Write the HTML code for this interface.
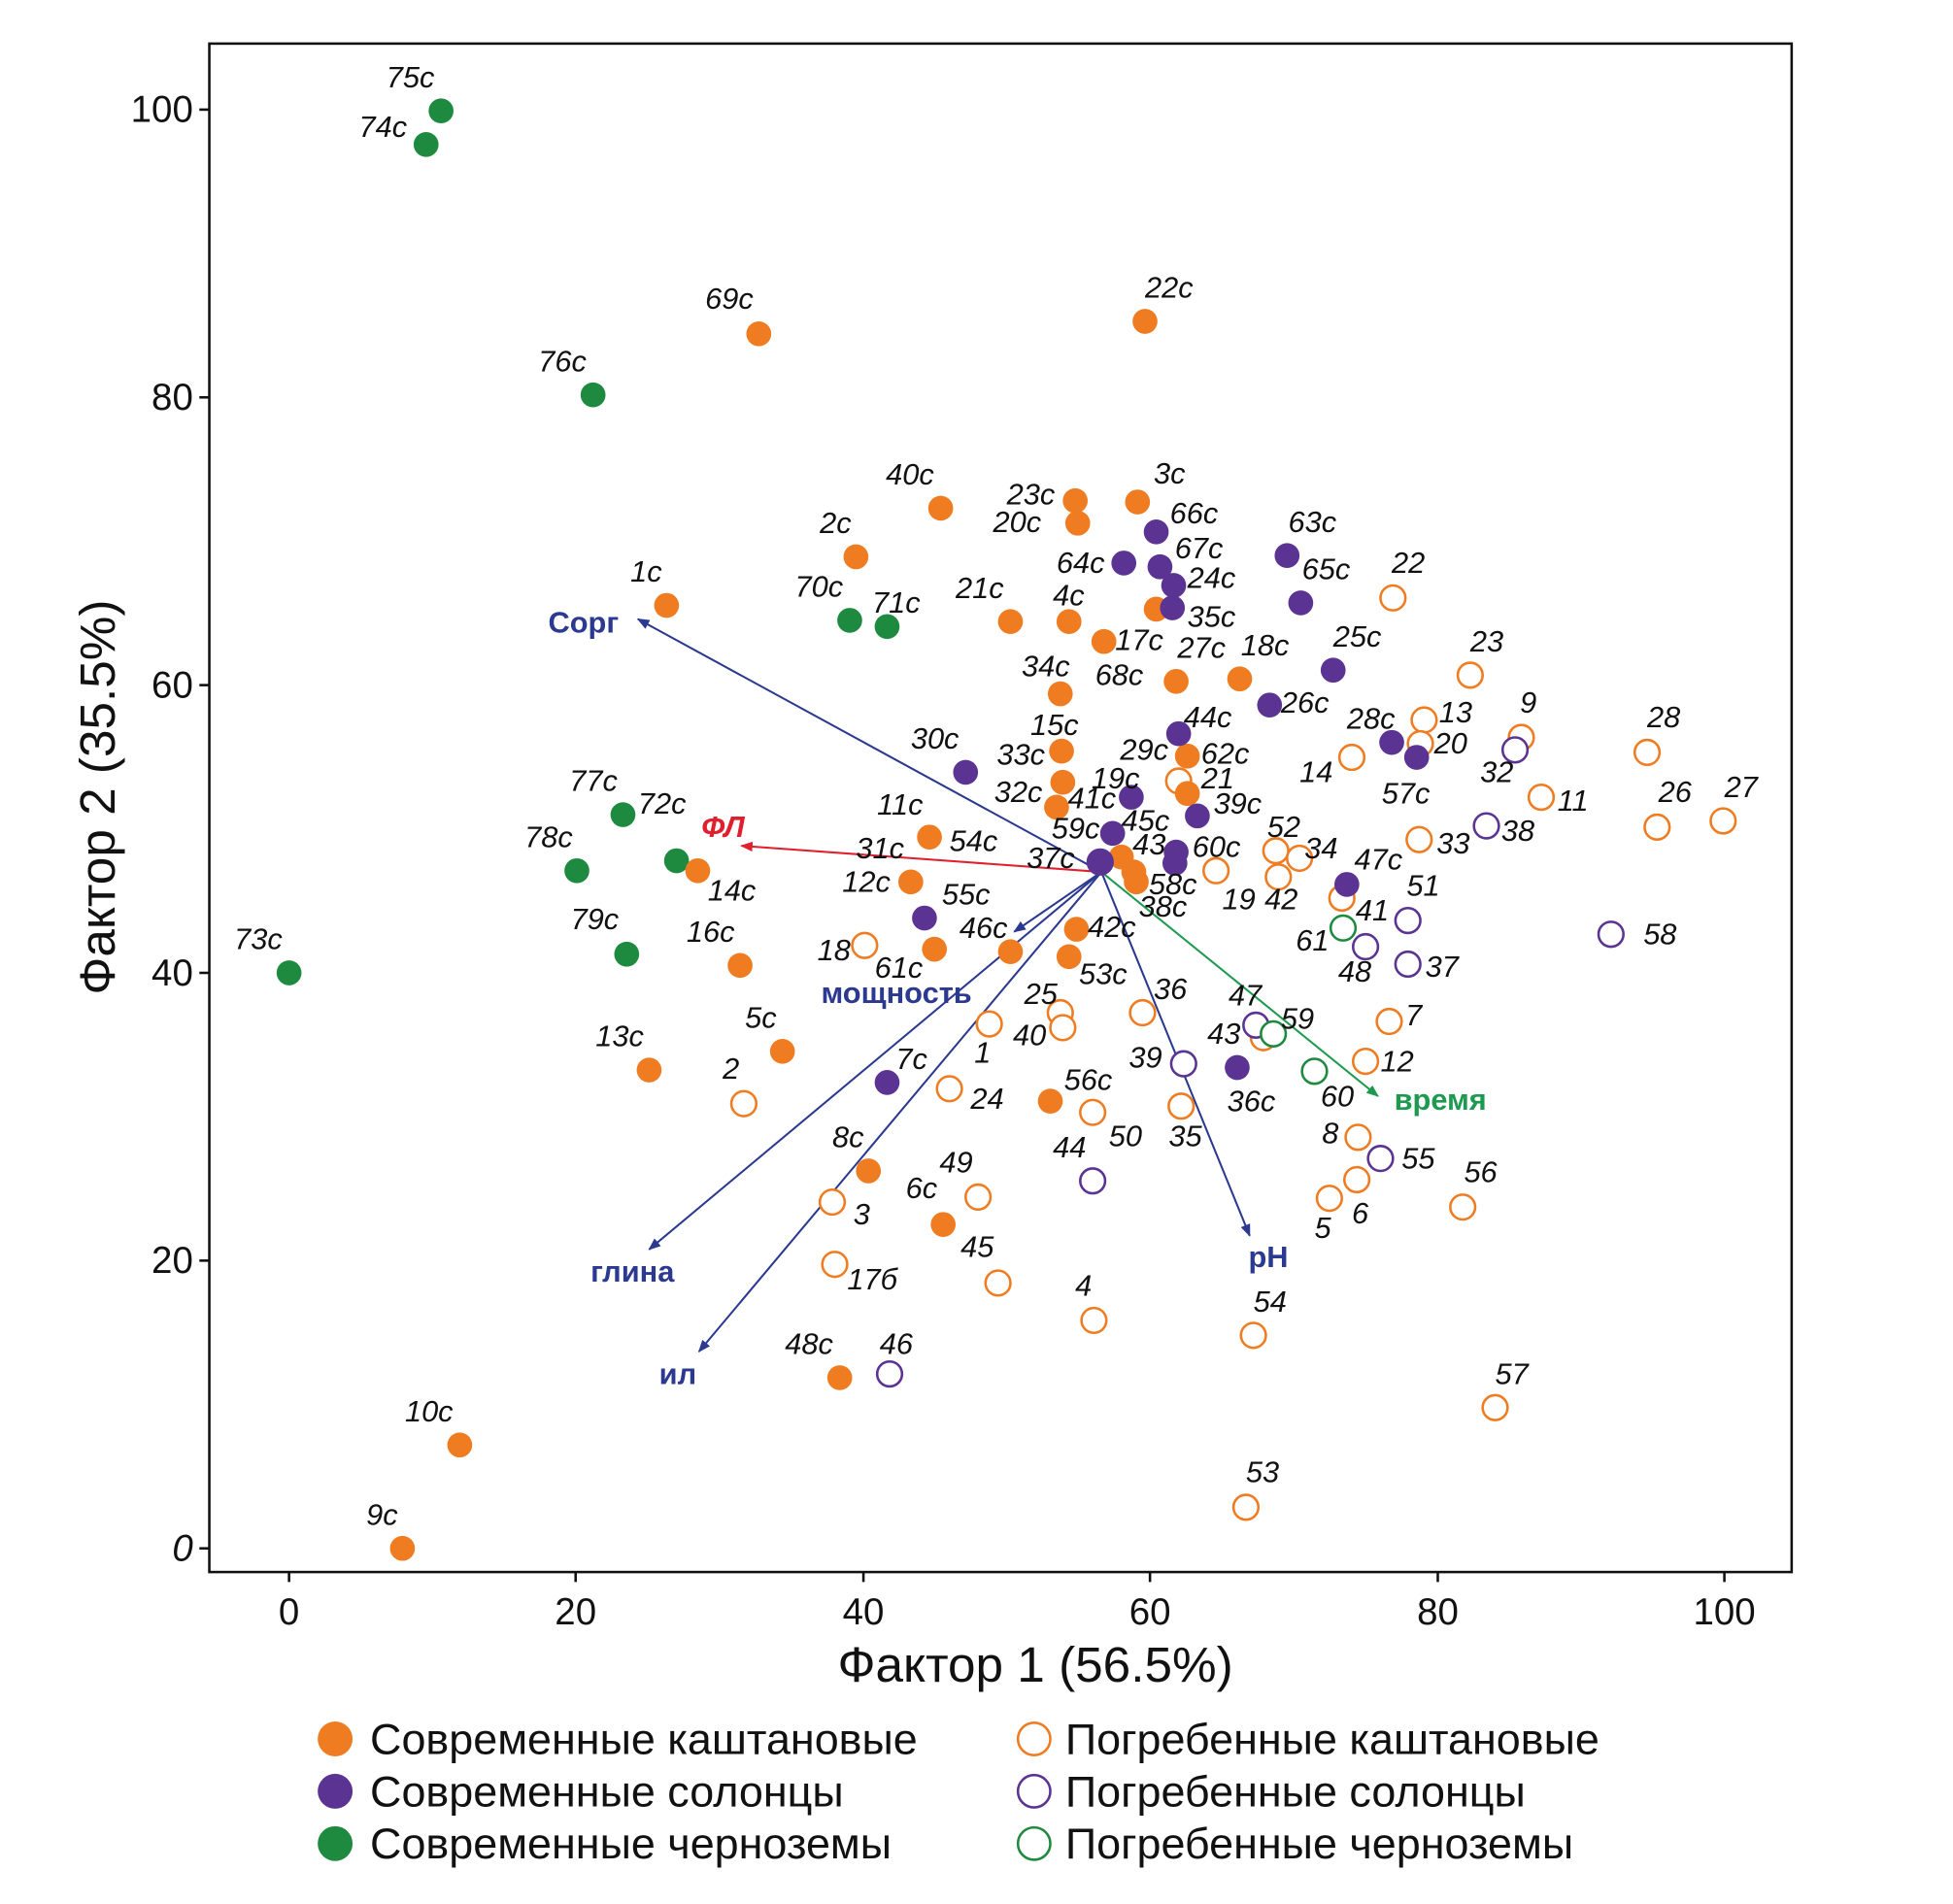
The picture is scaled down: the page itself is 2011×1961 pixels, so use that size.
<!DOCTYPE html>
<html><head><meta charset="utf-8"><style>
html,body{margin:0;padding:0;background:#fff}
svg{display:block}
text{font-family:"Liberation Sans",sans-serif}
.l{font-size:24px;font-style:italic;fill:#111}
.of{fill:#f07c22}.pf{fill:#5b3393}.gf{fill:#1e8a40}
.oo{fill:#fff;stroke:#f07c22;stroke-width:2}.po{fill:#fff;stroke:#5b3393;stroke-width:2}.go{fill:#fff;stroke:#1e8a40;stroke-width:2}
.t{font-size:30px;fill:#111}
.v{font-size:24px;font-weight:bold;fill:#2b3990}
</style></head><body>
<svg width="2011" height="1961" viewBox="0 0 1567.5 1528.5" preserveAspectRatio="none" xmlns="http://www.w3.org/2000/svg">
<defs>
<marker id="ab" markerWidth="10" markerHeight="8" refX="9" refY="4" orient="auto" markerUnits="userSpaceOnUse"><path d="M0,0L10,4L0,8z" fill="#2b3990"/></marker>
<marker id="ar" markerWidth="10" markerHeight="8" refX="9" refY="4" orient="auto" markerUnits="userSpaceOnUse"><path d="M0,0L10,4L0,8z" fill="#e0202e"/></marker>
<marker id="ag" markerWidth="10" markerHeight="8" refX="9" refY="4" orient="auto" markerUnits="userSpaceOnUse"><path d="M0,0L10,4L0,8z" fill="#1e9a50"/></marker>
</defs>
<rect x="168" y="35" width="1270" height="1227" fill="none" stroke="#111" stroke-width="2"/>
<g stroke="#111" stroke-width="2">
<line x1="232" y1="1262" x2="232" y2="1270"/><line x1="462" y1="1262" x2="462" y2="1270"/><line x1="693" y1="1262" x2="693" y2="1270"/><line x1="923" y1="1262" x2="923" y2="1270"/><line x1="1154" y1="1262" x2="1154" y2="1270"/><line x1="1384" y1="1262" x2="1384" y2="1270"/>
<line x1="160" y1="1243" x2="168" y2="1243"/><line x1="160" y1="1012" x2="168" y2="1012"/><line x1="160" y1="781" x2="168" y2="781"/><line x1="160" y1="550" x2="168" y2="550"/><line x1="160" y1="319" x2="168" y2="319"/><line x1="160" y1="88" x2="168" y2="88"/>
</g>
<g class="t" text-anchor="middle">
<text x="232" y="1304">0</text><text x="462" y="1304">20</text><text x="693" y="1304">40</text><text x="923" y="1304">60</text><text x="1154" y="1304">80</text><text x="1384" y="1304">100</text>
</g>
<g class="t" text-anchor="end">
<text x="155" y="1253" font-style="italic">0</text><text x="155" y="1022">20</text><text x="155" y="791">40</text><text x="155" y="560">60</text><text x="155" y="329">80</text><text x="155" y="98">100</text>
</g>
<text x="831" y="1350" text-anchor="middle" font-size="40" fill="#111">Фактор 1 (56.5%)</text>
<text transform="translate(92,640) rotate(-90)" text-anchor="middle" font-size="40" fill="#111">Фактор 2 (35.5%)</text>

<g stroke-width="1.6" fill="none">
<line x1="884" y1="700" x2="512" y2="497" stroke="#2b3990" marker-end="url(#ab)"/>
<line x1="884" y1="700" x2="595" y2="679" stroke="#e0202e" marker-end="url(#ar)"/>
<line x1="884" y1="700" x2="814" y2="748" stroke="#2b3990" marker-end="url(#ab)"/>
<line x1="884" y1="700" x2="521" y2="1003" stroke="#2b3990" marker-end="url(#ab)"/>
<line x1="884" y1="700" x2="561" y2="1085" stroke="#2b3990" marker-end="url(#ab)"/>
<line x1="884" y1="700" x2="1003" y2="992" stroke="#2b3990" marker-end="url(#ab)"/>
<line x1="884" y1="700" x2="1106" y2="880" stroke="#1e9a50" marker-end="url(#ag)"/>
</g>
<text class="v" x="440" y="508">Сорг</text>
<text class="v" x="563" y="672" style="fill:#e0202e;font-style:italic">ФЛ</text>
<text class="v" x="659" y="805">мощность</text>
<text class="v" x="474" y="1029">глина</text>
<text class="v" x="529" y="1111">ил</text>
<text class="v" x="1002" y="1017">pH</text>
<text class="v" x="1119" y="891" style="fill:#1e9a50">время</text>

<g>
<circle class="oo" cx="1118" cy="480" r="10"/><circle class="oo" cx="1180" cy="542" r="10"/><circle class="oo" cx="1221" cy="592" r="10"/><circle class="oo" cx="1143" cy="578" r="10"/><circle class="oo" cx="1140" cy="597" r="10"/><circle class="oo" cx="1085" cy="608" r="10"/><circle class="oo" cx="1322" cy="604" r="10"/><circle class="oo" cx="1330" cy="664" r="10"/><circle class="oo" cx="1383" cy="659" r="10"/><circle class="oo" cx="1237" cy="640" r="10"/><circle class="oo" cx="1139" cy="674" r="10"/><circle class="oo" cx="946" cy="627" r="10"/><circle class="oo" cx="1024" cy="683" r="10"/><circle class="oo" cx="1043" cy="689" r="10"/><circle class="oo" cx="976" cy="699" r="10"/><circle class="oo" cx="1026" cy="704" r="10"/><circle class="oo" cx="1077" cy="721" r="10"/><circle class="oo" cx="694" cy="759" r="10"/><circle class="oo" cx="851" cy="813" r="10"/><circle class="oo" cx="853" cy="825" r="10"/><circle class="oo" cx="794" cy="822" r="10"/><circle class="oo" cx="917" cy="813" r="10"/><circle class="oo" cx="597" cy="886" r="10"/><circle class="oo" cx="762" cy="874" r="10"/><circle class="oo" cx="877" cy="893" r="10"/><circle class="oo" cx="948" cy="888" r="10"/><circle class="oo" cx="1096" cy="852" r="10"/><circle class="oo" cx="1115" cy="820" r="10"/><circle class="oo" cx="1090" cy="913" r="10"/><circle class="oo" cx="1089" cy="947" r="10"/><circle class="oo" cx="1067" cy="962" r="10"/><circle class="oo" cx="1174" cy="969" r="10"/><circle class="oo" cx="785" cy="961" r="10"/><circle class="oo" cx="668" cy="965" r="10"/><circle class="oo" cx="670" cy="1015" r="10"/><circle class="oo" cx="801" cy="1030" r="10"/><circle class="oo" cx="878" cy="1060" r="10"/><circle class="oo" cx="1006" cy="1072" r="10"/><circle class="oo" cx="1200" cy="1130" r="10"/><circle class="oo" cx="1000" cy="1210" r="10"/><circle class="oo" cx="1014" cy="833" r="10"/>
<circle class="po" cx="1216" cy="602" r="10"/><circle class="po" cx="1193" cy="663" r="10"/><circle class="po" cx="1130" cy="739" r="10"/><circle class="po" cx="1096" cy="760" r="10"/><circle class="po" cx="1130" cy="774" r="10"/><circle class="po" cx="1293" cy="750" r="10"/><circle class="po" cx="1008" cy="823" r="10"/><circle class="po" cx="950" cy="854" r="10"/><circle class="po" cx="1108" cy="930" r="10"/><circle class="po" cx="877" cy="948" r="10"/><circle class="po" cx="714" cy="1103" r="10"/>
<circle class="go" cx="1078" cy="745" r="10"/><circle class="go" cx="1022" cy="830" r="10"/><circle class="go" cx="1055" cy="860" r="10"/>
</g>
<g>
<circle class="gf" cx="354" cy="89" r="10"/><circle class="gf" cx="342" cy="116" r="10"/><circle class="gf" cx="476" cy="317" r="10"/><circle class="gf" cx="682" cy="498" r="10"/><circle class="gf" cx="712" cy="503" r="10"/><circle class="gf" cx="500" cy="654" r="10"/><circle class="gf" cx="543" cy="691" r="10"/><circle class="gf" cx="463" cy="699" r="10"/><circle class="gf" cx="503" cy="766" r="10"/><circle class="gf" cx="232" cy="781" r="10"/>
<circle class="of" cx="609" cy="268" r="10"/><circle class="of" cx="919" cy="258" r="10"/><circle class="of" cx="755" cy="408" r="10"/><circle class="of" cx="863" cy="402" r="10"/><circle class="of" cx="865" cy="420" r="10"/><circle class="of" cx="913" cy="403" r="10"/><circle class="of" cx="687" cy="447" r="10"/><circle class="of" cx="535" cy="486" r="10"/><circle class="of" cx="811" cy="499" r="10"/><circle class="of" cx="858" cy="499" r="10"/><circle class="of" cx="886" cy="515" r="10"/><circle class="of" cx="928" cy="489" r="10"/><circle class="of" cx="851" cy="557" r="10"/><circle class="of" cx="944" cy="547" r="10"/><circle class="of" cx="995" cy="545" r="10"/><circle class="of" cx="852" cy="603" r="10"/><circle class="of" cx="853" cy="628" r="10"/><circle class="of" cx="848" cy="648" r="10"/><circle class="of" cx="953" cy="607" r="10"/><circle class="of" cx="953" cy="637" r="10"/><circle class="of" cx="746" cy="672" r="10"/><circle class="of" cx="731" cy="708" r="10"/><circle class="of" cx="560" cy="699" r="10"/><circle class="of" cx="594" cy="775" r="10"/><circle class="of" cx="811" cy="764" r="10"/><circle class="of" cx="750" cy="762" r="10"/><circle class="of" cx="864" cy="746" r="10"/><circle class="of" cx="858" cy="768" r="10"/><circle class="of" cx="628" cy="844" r="10"/><circle class="of" cx="521" cy="859" r="10"/><circle class="of" cx="843" cy="884" r="10"/><circle class="of" cx="697" cy="940" r="10"/><circle class="of" cx="757" cy="983" r="10"/><circle class="of" cx="674" cy="1106" r="10"/><circle class="of" cx="369" cy="1160" r="10"/><circle class="of" cx="323" cy="1243" r="10"/><circle class="of" cx="900" cy="688" r="10"/><circle class="of" cx="910" cy="700" r="10"/><circle class="of" cx="912" cy="708" r="10"/>
<circle class="pf" cx="928" cy="427" r="10"/><circle class="pf" cx="931" cy="455" r="10"/><circle class="pf" cx="902" cy="452" r="10"/><circle class="pf" cx="1033" cy="446" r="10"/><circle class="pf" cx="1044" cy="484" r="10"/><circle class="pf" cx="942" cy="470" r="10"/><circle class="pf" cx="941" cy="488" r="10"/><circle class="pf" cx="1070" cy="538" r="10"/><circle class="pf" cx="1019" cy="566" r="10"/><circle class="pf" cx="946" cy="589" r="10"/><circle class="pf" cx="1117" cy="596" r="10"/><circle class="pf" cx="1137" cy="608" r="10"/><circle class="pf" cx="775" cy="620" r="10"/><circle class="pf" cx="908" cy="640" r="10"/><circle class="pf" cx="961" cy="655" r="10"/><circle class="pf" cx="893" cy="669" r="10"/><circle class="pf" cx="944" cy="684" r="10"/><circle class="pf" cx="943" cy="693" r="10"/><circle class="pf" cx="883" cy="692" r="11"/><circle class="pf" cx="742" cy="737" r="10"/><circle class="pf" cx="712" cy="869" r="10"/><circle class="pf" cx="993" cy="857" r="10"/><circle class="pf" cx="1081" cy="710" r="10"/>
</g>
<g class="l">
<text x="310" y="70">75c</text><text x="288" y="110">74c</text><text x="432" y="298">76c</text><text x="566" y="248">69c</text><text x="919" y="239">22c</text>
<text x="711" y="389">40c</text><text x="808" y="405">23c</text><text x="797" y="427">20c</text><text x="926" y="388">3c</text><text x="658" y="428">2c</text><text x="506" y="467">1c</text>
<text x="939" y="420">66c</text><text x="1034" y="427">63c</text><text x="943" y="448">67c</text><text x="848" y="460">64c</text><text x="953" y="472">24c</text><text x="1045" y="465">65c</text>
<text x="638" y="479">70c</text><text x="700" y="492">71c</text><text x="767" y="480">21c</text><text x="845" y="486">4c</text><text x="953" y="503">35c</text><text x="895" y="522">17c</text>
<text x="1070" y="519">25c</text><text x="1117" y="460">22</text><text x="820" y="543">34c</text><text x="945" y="528">27c</text><text x="996" y="526">18c</text><text x="879" y="550">68c</text><text x="1180" y="523">23</text>
<text x="1028" y="572">26c</text><text x="950" y="584">44c</text><text x="827" y="590">15c</text><text x="1081" y="585">28c</text><text x="1155" y="580">13</text><text x="1220" y="572">9</text><text x="1322" y="584">28</text>
<text x="731" y="601">30c</text><text x="800" y="614">33c</text><text x="899" y="610">29c</text><text x="964" y="613">62c</text><text x="1151" y="605">20</text><text x="1043" y="628">14</text><text x="1188" y="628">32</text>
<text x="798" y="644">32c</text><text x="876" y="633">19c</text><text x="964" y="633">21</text><text x="1109" y="645">57c</text><text x="1250" y="651">11</text><text x="1331" y="644">26</text><text x="1384" y="640">27</text>
<text x="457" y="635">77c</text><text x="512" y="653">72c</text><text x="704" y="654">11c</text><text x="857" y="649">41c</text><text x="974" y="653">39c</text>
<text x="421" y="680">78c</text><text x="687" y="689">31c</text><text x="762" y="683">54c</text><text x="844" y="673">59c</text><text x="900" y="667">45c</text><text x="1017" y="672">52</text><text x="1153" y="685">33</text><text x="1205" y="675">38</text>
<text x="824" y="697">37c</text><text x="909" y="686">43</text><text x="957" y="688">60c</text><text x="1047" y="689">34</text><text x="1087" y="698">47c</text>
<text x="568" y="723">14c</text><text x="676" y="716">12c</text><text x="922" y="718">58c</text><text x="914" y="736">38c</text><text x="981" y="730">19</text><text x="1015" y="730">42</text><text x="1129" y="719">51</text><text x="1088" y="739">41</text>
<text x="458" y="746">79c</text><text x="756" y="726">55c</text><text x="770" y="753">46c</text><text x="873" y="752">42c</text><text x="1040" y="763">61</text><text x="1319" y="758">58</text>
<text x="188" y="762">73c</text><text x="551" y="756">16c</text><text x="656" y="771">18</text><text x="702" y="785">61c</text><text x="866" y="790">53c</text><text x="1074" y="788">48</text><text x="1144" y="784">37</text>
<text x="822" y="806">25</text><text x="926" y="802">36</text><text x="986" y="807">47</text><text x="1028" y="826">59</text><text x="1128" y="823">7</text>
<text x="598" y="825">5c</text><text x="813" y="839">40</text><text x="782" y="853">1</text><text x="969" y="838">43</text><text x="478" y="840">13c</text><text x="1108" y="860">12</text>
<text x="719" y="858">7c</text><text x="580" y="866">2</text><text x="906" y="857">39</text><text x="854" y="875">56c</text><text x="985" y="892">36c</text><text x="1060" y="888">60</text>
<text x="779" y="890">24</text><text x="890" y="920">50</text><text x="938" y="920">35</text><text x="668" y="921">8c</text><text x="845" y="929">44</text><text x="1061" y="918">8</text><text x="1125" y="938">55</text>
<text x="754" y="941">49</text><text x="727" y="962">6c</text><text x="1175" y="949">56</text><text x="1085" y="982">6</text><text x="1055" y="994">5</text><text x="685" y="983">3</text>
<text x="771" y="1009">45</text><text x="680" y="1035">17б</text><text x="863" y="1040">4</text><text x="1006" y="1053">54</text>
<text x="630" y="1087">48c</text><text x="706" y="1087">46</text><text x="1200" y="1111">57</text><text x="325" y="1141">10c</text><text x="1000" y="1190">53</text><text x="294" y="1224">9c</text>
</g>
<g font-size="35" fill="#111">
<circle class="of" cx="269" cy="1396" r="14"/><text x="297" y="1408">Современные каштановые</text>
<circle class="pf" cx="269" cy="1438" r="14"/><text x="297" y="1450">Современные солонцы</text>
<circle class="gf" cx="269" cy="1480" r="14"/><text x="297" y="1492">Современные черноземы</text>
<circle class="oo" cx="830" cy="1396" r="13"/><text x="855" y="1408">Погребенные каштановые</text>
<circle class="po" cx="830" cy="1438" r="13"/><text x="855" y="1450">Погребенные солонцы</text>
<circle class="go" cx="830" cy="1480" r="13"/><text x="855" y="1492">Погребенные черноземы</text>
</g>
</svg>
</body></html>
